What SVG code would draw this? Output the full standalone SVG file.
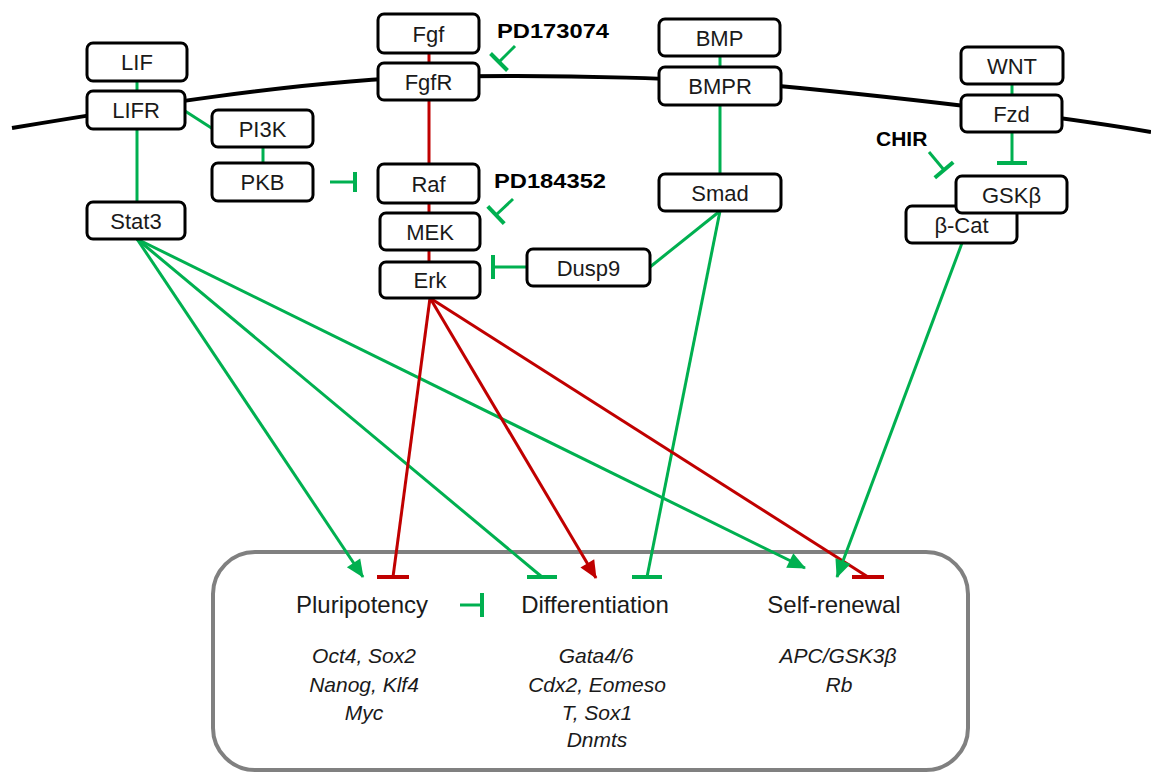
<svg xmlns="http://www.w3.org/2000/svg" width="1151" height="774" viewBox="0 0 1151 774">
<style>
.box{fill:#fff;stroke:#000;stroke-width:3}
.lbl{font-family:"Liberation Sans",Arial,sans-serif;font-size:22px;text-anchor:middle;fill:#1a1a1a}
.drug{font-family:"Liberation Sans",Arial,sans-serif;font-size:21px;font-weight:bold;fill:#000}
.hdr{font-family:"Liberation Sans",Arial,sans-serif;font-size:24px;text-anchor:middle;fill:#1a1a1a}
.gene{font-family:"Liberation Sans",Arial,sans-serif;font-size:21px;font-style:italic;text-anchor:middle;fill:#1a1a1a}
.g{stroke:#00B050;stroke-width:3;fill:none}
.r{stroke:#C00000;stroke-width:3;fill:none}
</style>
<defs>
<marker id="arrG" markerUnits="userSpaceOnUse" viewBox="-18 -9 20 18" markerWidth="20" markerHeight="18" refX="0" refY="0" orient="auto"><path d="M1,0 L-17,-8 L-17,8 Z" fill="#00B050"/></marker>
<marker id="arrR" markerUnits="userSpaceOnUse" viewBox="-18 -9 20 18" markerWidth="20" markerHeight="18" refX="0" refY="0" orient="auto"><path d="M1,0 L-17,-8 L-17,8 Z" fill="#C00000"/></marker>
<marker id="barG" markerUnits="userSpaceOnUse" viewBox="-3 -16 6 32" markerWidth="6" markerHeight="32" refX="0" refY="0" orient="auto"><path d="M0,-15 V15" stroke="#00B050" stroke-width="4"/></marker>
<marker id="barGs" markerUnits="userSpaceOnUse" viewBox="-3 -13 6 26" markerWidth="6" markerHeight="26" refX="0" refY="0" orient="auto"><path d="M0,-12 V12" stroke="#00B050" stroke-width="4"/></marker>
<marker id="barGx" markerUnits="userSpaceOnUse" viewBox="-3 -11 6 22" markerWidth="6" markerHeight="22" refX="0" refY="0" orient="auto"><path d="M0,-10 V10" stroke="#00B050" stroke-width="4"/></marker>
<marker id="barGh" markerUnits="userSpaceOnUse" viewBox="-16 -3 32 6" markerWidth="32" markerHeight="6" refX="0" refY="0" orient="0"><path d="M-15,0 H15" stroke="#00B050" stroke-width="4"/></marker>
<marker id="barRh" markerUnits="userSpaceOnUse" viewBox="-17 -3 34 6" markerWidth="34" markerHeight="6" refX="0" refY="0" orient="0"><path d="M-16,0 H16" stroke="#C00000" stroke-width="4"/></marker>
</defs>

<path id="membrane" d="M12,128 C120,110 300,80 430,77 C560,74 700,78 800,88 C900,98 1050,115 1151,132" fill="none" stroke="#000" stroke-width="4"/>

<rect id="cell-box" x="213" y="552" width="755" height="218" rx="42" fill="none" stroke="#808080" stroke-width="4"/>

<g id="connectors">
<line class="g" x1="137" y1="81" x2="137" y2="92"/>
<line class="g" x1="137" y1="128" x2="137" y2="203"/>
<line class="g" x1="185" y1="111" x2="213" y2="129"/>
<line class="g" x1="263" y1="146" x2="263" y2="164"/>
<line class="g" x1="330" y1="182" x2="355" y2="182" marker-end="url(#barGx)"/>
<line class="r" x1="429" y1="52" x2="429" y2="64"/>
<line class="r" x1="429" y1="99" x2="429" y2="165"/>
<line class="r" x1="429" y1="202" x2="429" y2="214"/>
<line class="r" x1="429" y1="249" x2="429" y2="263"/>
<line class="g" x1="515" y1="46" x2="499" y2="62" marker-end="url(#barGs)"/>
<line class="g" x1="513" y1="199" x2="496" y2="215" marker-end="url(#barGs)"/>
<line class="g" x1="527" y1="267" x2="493" y2="267" marker-end="url(#barGs)"/>
<line class="g" x1="720" y1="55" x2="720" y2="68"/>
<line class="g" x1="720" y1="104" x2="720" y2="175"/>
<line class="g" x1="720" y1="211" x2="650" y2="267"/>
<line class="g" x1="720" y1="211" x2="647" y2="577" marker-end="url(#barGh)"/>
<line class="g" x1="1012" y1="83" x2="1012" y2="96"/>
<line class="g" x1="1012" y1="131" x2="1012" y2="163" marker-end="url(#barG)"/>
<line class="g" x1="929" y1="152" x2="944" y2="170" marker-end="url(#barGs)"/>
<line class="g" x1="137" y1="239" x2="363" y2="577" marker-end="url(#arrG)"/>
<line class="g" x1="137" y1="239" x2="542" y2="577" marker-end="url(#barGh)"/>
<line class="g" x1="137" y1="239" x2="805" y2="568" marker-end="url(#arrG)"/>
<line class="r" x1="430" y1="298" x2="393" y2="577" marker-end="url(#barRh)"/>
<line class="r" x1="430" y1="298" x2="596" y2="578" marker-end="url(#arrR)"/>
<line class="r" x1="430" y1="298" x2="868" y2="577" marker-end="url(#barRh)"/>
<line class="g" x1="962" y1="243" x2="837" y2="577" marker-end="url(#arrG)"/>
<line class="g" x1="460" y1="605" x2="482" y2="605" marker-end="url(#barGs)"/>
</g>

<g id="node-LIF"><rect class="box" x="87" y="43" width="100" height="38" rx="6"/><text class="lbl" x="137" y="70">LIF</text></g>
<g id="node-LIFR"><rect class="box" x="87" y="91" width="98" height="38" rx="6"/><text class="lbl" x="136" y="118">LIFR</text></g>
<g id="node-PI3K"><rect class="box" x="212" y="110" width="101" height="37" rx="6"/><text class="lbl" x="262.5" y="136.5">PI3K</text></g>
<g id="node-PKB"><rect class="box" x="212" y="163" width="101" height="38" rx="6"/><text class="lbl" x="262.5" y="190">PKB</text></g>
<g id="node-Stat3"><rect class="box" x="87" y="202" width="98" height="37" rx="6"/><text class="lbl" x="136" y="228.5">Stat3</text></g>
<g id="node-Fgf"><rect class="box" x="378" y="14" width="101" height="39" rx="6"/><text class="lbl" x="428.5" y="41.5">Fgf</text></g>
<g id="node-FgfR"><rect class="box" x="378" y="63" width="101" height="37" rx="6"/><text class="lbl" x="428.5" y="89.5">FgfR</text></g>
<g id="node-Raf"><rect class="box" x="378" y="164" width="101" height="39" rx="6"/><text class="lbl" x="428.5" y="191.5">Raf</text></g>
<g id="node-MEK"><rect class="box" x="380" y="213" width="100" height="37" rx="6"/><text class="lbl" x="430" y="239.5">MEK</text></g>
<g id="node-Erk"><rect class="box" x="380" y="262" width="100" height="36" rx="6"/><text class="lbl" x="430" y="288">Erk</text></g>
<g id="node-Dusp9"><rect class="box" x="527" y="249" width="123" height="37" rx="6"/><text class="lbl" x="588.5" y="275.5">Dusp9</text></g>
<g id="node-BMP"><rect class="box" x="659" y="19" width="121" height="37" rx="6"/><text class="lbl" x="719.5" y="45.5">BMP</text></g>
<g id="node-BMPR"><rect class="box" x="659" y="67" width="122" height="38" rx="6"/><text class="lbl" x="720" y="94">BMPR</text></g>
<g id="node-Smad"><rect class="box" x="659" y="174" width="122" height="37" rx="6"/><text class="lbl" x="720" y="200.5">Smad</text></g>
<g id="node-WNT"><rect class="box" x="961" y="47" width="102" height="37" rx="6"/><text class="lbl" x="1012" y="73.5">WNT</text></g>
<g id="node-Fzd"><rect class="box" x="961" y="95" width="101" height="37" rx="6"/><text class="lbl" x="1011.5" y="121.5">Fzd</text></g>
<g id="node-bCat"><rect class="box" x="906" y="206" width="111" height="37" rx="6"/><text class="lbl" x="961.5" y="233">β-Cat</text></g>
<g id="node-GSKb"><rect class="box" x="956" y="176" width="111" height="37" rx="6"/><text class="lbl" x="1011.5" y="202.5">GSKβ</text></g>

<g id="drugs">
<text class="drug" x="497" y="38" textLength="112" lengthAdjust="spacingAndGlyphs">PD173074</text>
<text class="drug" x="494" y="188" textLength="112" lengthAdjust="spacingAndGlyphs">PD184352</text>
<text class="drug" x="876" y="146">CHIR</text>
</g>

<g id="outcome-Pluripotency"><text class="hdr" x="362" y="613">Pluripotency</text>
<text class="gene" x="364" y="663">Oct4, Sox2</text><text class="gene" x="364" y="692">Nanog, Klf4</text><text class="gene" x="364" y="720">Myc</text></g>
<g id="outcome-Differentiation"><text class="hdr" x="595" y="613">Differentiation</text>
<text class="gene" x="596" y="663">Gata4/6</text><text class="gene" x="597" y="692">Cdx2, Eomeso</text><text class="gene" x="597" y="720">T, Sox1</text><text class="gene" x="597" y="747">Dnmts</text></g>
<g id="outcome-SelfRenewal"><text class="hdr" x="834" y="613">Self-renewal</text>
<text class="gene" x="838" y="663">APC/GSK3β</text><text class="gene" x="839" y="692">Rb</text></g>
</svg>
